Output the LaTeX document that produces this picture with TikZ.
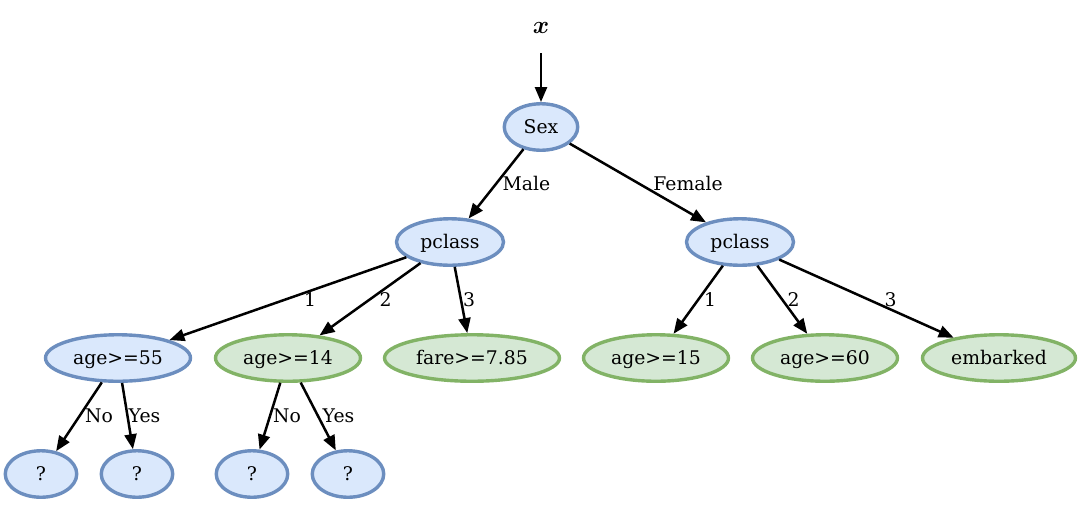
\documentclass[tikz,border=0pt]{standalone}
\usepackage{fontspec}
\setmainfont{DejaVu Serif}
\usepackage{bm}
\usetikzlibrary{shapes.geometric,arrows.meta}
\definecolor{bfill}{HTML}{DAE8FC}
\definecolor{bline}{HTML}{6C8EBF}
\definecolor{gfill}{HTML}{D5E8D4}
\definecolor{gline}{HTML}{82B366}
\begin{document}
\begin{tikzpicture}[x=1pt,y=-1pt,>={Triangle[length=15pt,width=12pt]},font=\fontsize{18.8}{22}\selectfont,
	bnode/.style={ellipse,draw=bline,fill=bfill,line width=3.4pt,inner sep=0pt,minimum height=46.5pt,text height=13pt,text depth=0pt},
	gnode/.style={ellipse,draw=gline,fill=gfill,line width=3.4pt,inner sep=0pt,minimum height=46.5pt,text height=13pt,text depth=0pt},
	arr/.style={->,line width=2.5pt},
	lbl/.style={inner sep=0pt,anchor=base}]
	\useasboundingbox (0,0) rectangle (1081,504);
	\node[lbl,font=\fontsize{23}{26}\selectfont] (x) at (541,33) {$\bm{x}$};
	\coordinate (xin) at (541,53);
	\node[bnode,minimum width=73.5pt] (sex) at (541,127) {Sex};
	\node[bnode,minimum width=107pt] (plA) at (450,242) {pclass};
	\node[bnode,minimum width=107pt] (plB) at (740,242) {pclass};
	\node[bnode,minimum width=145pt] (ageA) at (118,358) {age>=55};
	\node[gnode,minimum width=145pt] (ageB) at (288,358) {age>=14};
	\node[gnode,minimum width=175pt] (fare) at (472,358) {fare>=7.85};
	\node[gnode,minimum width=145pt] (ageC) at (656,358) {age>=15};
	\node[gnode,minimum width=145pt] (ageD) at (825,358) {age>=60};
	\node[gnode,minimum width=153pt] (emb) at (999,358) {embarked};
	\node[bnode,minimum width=71.5pt] (qA) at (41,474) {?};
	\node[bnode,minimum width=71.5pt] (qB) at (137,474) {?};
	\node[bnode,minimum width=71.5pt] (qC) at (252,474) {?};
	\node[bnode,minimum width=71.5pt] (qD) at (348,474) {?};
	% edges
	\draw[arr] (xin) -- (sex);
	\draw[arr] (sex) -- (plA);
	\draw[arr] (sex) -- (plB);
	\draw[arr] (plA) -- (ageA);
	\draw[arr] (plA) -- (ageB);
	\draw[arr] (plA) -- (fare);
	\draw[arr] (plB) -- (ageC);
	\draw[arr] (plB) -- (ageD);
	\draw[arr] (plB) -- (emb);
	\draw[arr] (ageA) -- (qA);
	\draw[arr] (ageA) -- (qB);
	\draw[arr] (ageB) -- (qC);
	\draw[arr] (ageB) -- (qD);
	% edge labels
	\node[lbl] (lMale) at (526.5,190.5) {Male};
	\node[lbl] (lFemale) at (688,190.5) {Female};
	\node[lbl] (lA1) at (310,306) {1};
	\node[lbl] (lA2) at (385.5,306) {2};
	\node[lbl] (lA3) at (469,306) {3};
	\node[lbl] (lB1) at (710,306) {1};
	\node[lbl] (lB2) at (793.5,306) {2};
	\node[lbl] (lB3) at (890.5,306) {3};
	\node[lbl] (lNoA) at (99,422) {No};
	\node[lbl] (lYesA) at (144.5,422) {Yes};
	\node[lbl] (lNoB) at (287,422) {No};
	\node[lbl] (lYesB) at (338.5,422) {Yes};
\end{tikzpicture}
\end{document}
